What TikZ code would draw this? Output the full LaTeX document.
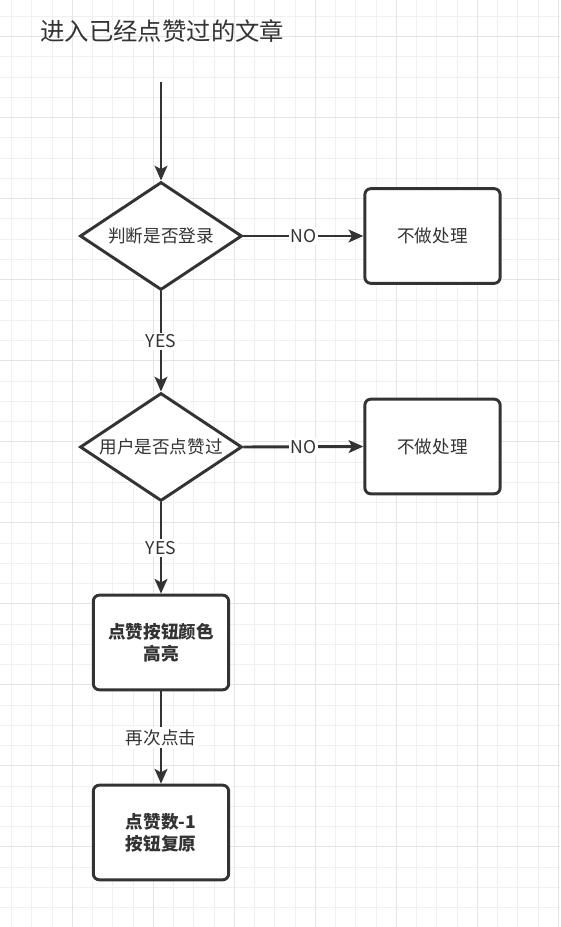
\documentclass[tikz,border=0pt]{standalone}
\usepackage{fontspec}
\setmainfont{Noto Sans CJK SC}
\usetikzlibrary{shapes.geometric,arrows.meta}
\definecolor{ink}{HTML}{333333}
\definecolor{gridminor}{HTML}{F0F0F0}
\definecolor{gridmajor}{HTML}{E4E4E4}
\begin{document}
\begin{tikzpicture}[x=0.75pt,y=-0.75pt,
  decision/.style={diamond, aspect=1.5, draw=ink, line width=2.2pt, fill=white, minimum width=121.5pt, minimum height=81pt, inner sep=0pt, text=ink, font=\fontsize{13.2}{15}\selectfont},
  procbox/.style={rectangle, rounded corners=4.5pt, draw=ink, line width=2.2pt, fill=white, minimum width=101.5pt, minimum height=71pt, inner sep=0pt, text=ink, align=center, font=\fontsize{13.2}{16.5}\selectfont},
  flow/.style={draw=ink, line width=2.2pt, -{Stealth[length=11pt,width=9.5pt,inset=2.5pt]}},
  lbl/.style={fill=white, text=ink, inner sep=1.5pt, font=\fontsize{13.2}{15}\selectfont},
  titletext/.style={text=ink, inner sep=0pt, anchor=west, font=\fontsize{18.3}{22}\selectfont},
  minorline/.style={draw=gridminor, line width=0.75pt},
  majorline/.style={draw=gridmajor, line width=0.75pt},
]
\useasboundingbox (0,0) rectangle (560,927);
\fill[white] (0,0) rectangle (560,927);
% grid
\foreach \k in {0,...,27} { \draw[minorline] (11.5+20.25*\k,0) -- (11.5+20.25*\k,927); }
\foreach \k in {0,...,44} { \draw[minorline] (0,16.5+20.25*\k) -- (560,16.5+20.25*\k); }
\foreach \k in {3,7,...,27} { \draw[majorline] (11.5+20.25*\k,0) -- (11.5+20.25*\k,927); }
\foreach \k in {1,5,...,41} { \draw[majorline] (0,16.5+20.25*\k) -- (560,16.5+20.25*\k); }

% title
\node[titletext] (title) at (40,31) {进入已经点赞过的文章};

% nodes
\coordinate (start) at (161,82);
\node[decision] (d1) at (161,236) {\makebox[0pt]{判断是否登录}};
\node[procbox]  (b1) at (432.5,236) {不做处理};
\node[decision] (d2) at (161,447) {\makebox[0pt]{用户是否点赞过}};
\node[procbox]  (b2) at (432.5,446.5) {不做处理};
\node[procbox, font=\fontsize{13.2}{16.5}\selectfont\bfseries] (b3) at (161,642.5) {点赞按钮颜色\\高亮};
\node[procbox, font=\fontsize{13.2}{16.5}\selectfont\bfseries] (b4) at (161,832.5) {点赞数-1\\按钮复原};

% connectors
\draw[flow] (start) -- (d1.north);
\draw[flow] (d1.east) -- node[lbl] {NO} (b1.west);
\draw[flow] (d1.south) -- node[lbl] {YES} (d2.north);
\draw[flow] (d2.east) -- node[lbl] {NO} (b2.west);
\draw[flow] (d2.south) -- node[lbl] {YES} (b3.north);
\draw[flow] (b3.south) -- node[lbl] {再次点击} (b4.north);
\end{tikzpicture}
\end{document}
